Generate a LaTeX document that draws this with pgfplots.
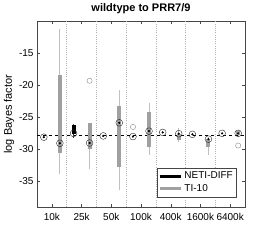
\documentclass[border=0pt]{standalone}
\usepackage{pgfplots}
\pgfplotsset{compat=1.18}
\usepackage{fontspec}
\setmainfont{Liberation Sans}
\definecolor{boxgray}{RGB}{160,160,160}
\definecolor{whgray}{RGB}{192,192,192}
\definecolor{axgray}{RGB}{70,70,70}
\begin{document}
\begin{tikzpicture}
\begin{axis}[
  scale only axis,
  width=208pt, height=186pt,
  xmin=0.5, xmax=7.5, ymin=-39, ymax=-10,
  xtick={1,2,3,4,5,6,7},
  xticklabels={10k,25k,50k,100k,400k,1600k,6400k},
  ytick={-35,-30,-25,-20,-15},
  /pgf/number format/assume math mode=true,
  tick align=inside,
  major tick length=3pt,
  axis line style={axgray},
  tick style={axgray},
  every tick label/.append style={font=\fontsize{10}{12}\selectfont},
  xticklabel style={yshift=-3pt},
  extra x ticks={1.5,2.5,3.5,4.5,5.5,6.5},
  extra x tick labels={},
  extra x tick style={grid=major, major grid style={gray!60, line width=0.5pt, dash pattern=on 1pt off 1.2pt}, major tick length=0pt},
  title={\textbf{wildtype to PRR7/9}},
  title style={font=\fontsize{11}{13}\selectfont, yshift=-2pt},
  ylabel={log Bayes factor},
  ylabel style={font=\fontsize{11}{13}\selectfont, at={(axis description cs:-0.135,0.5)}, anchor=center},
  legend style={at={(1,0)}, anchor=south east, xshift=-9pt, yshift=10pt,
    font=\fontsize{10}{12}\selectfont, draw=axgray, inner xsep=1pt, inner ysep=2pt, row sep=0pt,
    cells={anchor=west}},
  legend image code/.code={\draw[#1] (0cm,0cm) -- (0.75cm,0cm);},
]
\addlegendimage{black, line width=3pt}
\addlegendentry{NETI-DIFF}
\addlegendimage{boxgray, line width=3pt}
\addlegendentry{TI-10}

% reference line
\addplot[black, dashed, forget plot] coordinates {(0.5,-27.8) (7.5,-27.8)};

% TI-10 whiskers
\addplot[whgray, line width=0.8pt, forget plot] coordinates {(1.27,-33.9) (1.27,-11.3)};
\addplot[whgray, line width=0.8pt, forget plot] coordinates {(2.27,-33.1) (2.27,-26.0)};
\addplot[whgray, line width=0.8pt, forget plot] coordinates {(3.27,-36.4) (3.27,-20.7)};
\addplot[whgray, line width=0.8pt, forget plot] coordinates {(4.27,-30.8) (4.27,-22.75)};
\addplot[whgray, line width=0.8pt, forget plot] coordinates {(5.27,-28.8) (5.27,-26.6)};
\addplot[whgray, line width=0.8pt, forget plot] coordinates {(6.27,-30.85) (6.27,-28.1)};
\addplot[whgray, line width=0.8pt, forget plot] coordinates {(7.27,-28.0) (7.27,-27.0)};
% TI-10 boxes
\addplot[boxgray, line width=4pt, forget plot] coordinates {(1.27,-30.5) (1.27,-18.4)};
\addplot[boxgray, line width=4pt, forget plot] coordinates {(2.27,-30.0) (2.27,-25.95)};
\addplot[boxgray, line width=4pt, forget plot] coordinates {(3.27,-32.7) (3.27,-23.2)};
\addplot[boxgray, line width=4pt, forget plot] coordinates {(4.27,-29.6) (4.27,-24.15)};
\addplot[boxgray, line width=4pt, forget plot] coordinates {(5.27,-28.6) (5.27,-27.6)};
\addplot[boxgray, line width=4pt, forget plot] coordinates {(6.27,-29.7) (6.27,-28.4)};
\addplot[boxgray, line width=4pt, forget plot] coordinates {(7.27,-27.8) (7.27,-27.2)};

% NETI-DIFF whisker and box (25k)
\addplot[black!70, line width=0.8pt, forget plot] coordinates {(1.73,-28.2) (1.73,-26.0)};
\addplot[black, line width=4pt, forget plot] coordinates {(1.73,-27.6) (1.73,-26.2)};

% outliers
\addplot[only marks, mark=o, mark size=2.6pt, draw=gray!90, forget plot] coordinates {
  (2.27,-19.3) (3.73,-26.5) (7.27,-29.4)};

% medians
\addplot[only marks, mark=o, mark size=3.4pt, mark options={draw=black!85, fill=white}, forget plot] coordinates {
  (0.73,-28.1) (1.73,-27.5) (2.73,-27.9) (3.73,-28.0) (4.73,-27.35) (5.73,-27.65) (6.73,-27.5)
  (1.27,-29.05) (2.27,-29.0) (3.27,-25.85) (4.27,-27.15) (5.27,-27.55) (6.27,-28.4) (7.27,-27.5)};
\addplot[only marks, mark=*, mark size=0.9pt, mark options={black}, forget plot] coordinates {
  (0.73,-28.1) (1.73,-27.5) (2.73,-27.9) (3.73,-28.0) (4.73,-27.35) (5.73,-27.65) (6.73,-27.5)
  (1.27,-29.05) (2.27,-29.0) (3.27,-25.85) (4.27,-27.15) (5.27,-27.55) (6.27,-28.4) (7.27,-27.5)};
\end{axis}
\path ([xshift=-37pt,yshift=-39pt]current axis.south west) rectangle ([xshift=25pt,yshift=18pt]current axis.north east);
\end{tikzpicture}
\end{document}
